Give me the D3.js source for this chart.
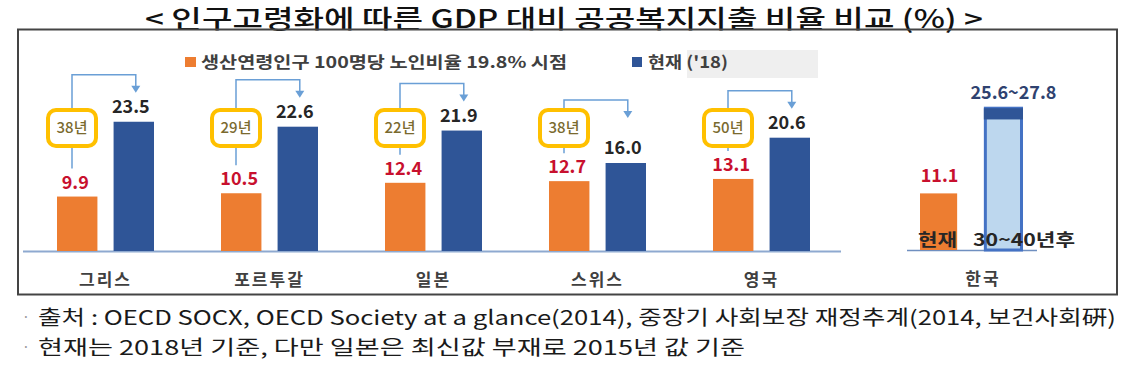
<!DOCTYPE html>
<html><head><meta charset="utf-8">
<script src="https://cdn.jsdelivr.net/npm/d3@7"></script>
<style>
html,body{margin:0;padding:0;background:#fff;}
svg{display:block;}
text{font-family:"Noto Sans CJK KR","Noto Sans",sans-serif;}
</style></head>
<body>
<svg id="chart" width="1133" height="375"></svg>
<script>
const title = "< 인구고령화에 따른 GDP 대비 공공복지지출 비율 비교 (%) >";
const categories = ["그리스", "포르투갈", "일본", "스위스", "영국"];
const seriesNames = ["생산연령인구 100명당 노인비율 19.8% 시점", "현재 ('18)"];
const oldValues = [9.9, 10.5, 12.4, 12.7, 13.1];
const nowValues = [23.5, 22.6, 21.9, 16.0, 20.6];
const yearsTaken = [38, 29, 22, 38, 50];
const koreaLabel = "한국";
const koreaCats = ["현재", "30~40년후"];
const koreaNow = 11.1;
const koreaFutureLow = 25.6;
const koreaFutureHigh = 27.8;
const footnotes = [
  "출처 : OECD SOCX, OECD Society at a glance(2014), 중장기 사회보장 재정추계(2014, 보건사회硏)",
  "현재는 2018년 기준, 다만 일본은 최신값 부재로 2015년 값 기준"
];

const ORANGE = "#ED7D31", BLUE = "#2F5597", RED = "#C8102E", LINE = "#6A9FD6", GOLD = "#FFC000";
const svg = d3.select("#chart");

// title
svg.append("text").attr("x", 145).attr("y", 28).attr("textLength", 838).attr("lengthAdjust", "spacingAndGlyphs")
  .attr("font-size", 25).attr("font-weight", 500).attr("fill", "#111").text(title);

// frame
svg.append("rect").attr("x", 18).attr("y", 29.5).attr("width", 1099).attr("height", 265)
  .attr("fill", "none").attr("stroke", "#444").attr("stroke-width", 2);

// scales
const x = d3.scaleBand().domain(categories).range([23.5, 843.5]).padding(0);
const xs = d3.scaleBand().domain(["old", "now"]).range([33.5, 130.5]).paddingInner(0.2857).paddingOuter(0);
const y = d3.scaleLinear().domain([0, 30]).range([251, 86]);

// legend
svg.append("rect").attr("x", 687).attr("y", 50).attr("width", 131).attr("height", 28).attr("fill", "#efefef");
svg.append("rect").attr("x", 185).attr("y", 57).attr("width", 11).attr("height", 10).attr("fill", ORANGE);
svg.append("text").attr("x", 201).attr("y", 68).attr("font-size", 16).attr("font-weight", 700)
  .attr("fill", "#404040").attr("textLength", 366).attr("lengthAdjust", "spacingAndGlyphs").text(seriesNames[0]);
svg.append("rect").attr("x", 632).attr("y", 57).attr("width", 10).attr("height", 10).attr("fill", BLUE);
svg.append("text").attr("x", 648).attr("y", 68).attr("font-size", 16).attr("font-weight", 700)
  .attr("fill", "#404040").attr("textLength", 80).attr("lengthAdjust", "spacingAndGlyphs").text(seriesNames[1]);

// baseline
svg.append("line").attr("x1", 23).attr("x2", 841).attr("y1", y(0) + 0.5).attr("y2", y(0) + 0.5)
  .attr("stroke", "#8EA9D0").attr("stroke-width", 2);

const g = svg.append("g");
categories.forEach((c, i) => {
  const xo = x(c) + xs("old"), xn = x(c) + xs("now"), bw = xs.bandwidth();
  const cxBox = xo + 15;
  const ax = xn + bw / 2 + 2;
  const hy = Math.min(y(nowValues[i]) - 47, 100);
  const tip = hy + 18;
  const lines = g.append("g").attr("fill", "none").attr("stroke", LINE).attr("stroke-width", 1.5);
  lines.append("path").attr("d", `M${cxBox},110 V${hy} H${ax} V${tip - 6}`);
  lines.append("path").attr("d", `M${cxBox},146 V${y(oldValues[i]) - 28}`);
  g.append("path").attr("d", `M${ax - 4.5},${tip - 7} L${ax + 4.5},${tip - 7} L${ax},${tip} Z`).attr("fill", LINE);
  g.append("rect").attr("x", xo).attr("y", y(oldValues[i])).attr("width", bw).attr("height", y(0) - y(oldValues[i])).attr("fill", ORANGE);
  g.append("rect").attr("x", xn).attr("y", y(nowValues[i])).attr("width", bw).attr("height", y(0) - y(nowValues[i])).attr("fill", BLUE);
  g.append("text").attr("x", xo + bw / 2 - 2).attr("y", y(oldValues[i]) - 8).attr("text-anchor", "middle")
    .attr("font-size", 18).attr("font-weight", 700).attr("fill", RED).text(oldValues[i].toFixed(1));
  g.append("text").attr("x", xn + bw / 2 - 3).attr("y", y(nowValues[i]) - 9).attr("text-anchor", "middle")
    .attr("font-size", 18).attr("font-weight", 700).attr("fill", "#262626").text(nowValues[i].toFixed(1));
  g.append("rect").attr("x", cxBox - 24).attr("y", 110).attr("width", 48).attr("height", 36).attr("rx", 8)
    .attr("fill", "#fff").attr("stroke", GOLD).attr("stroke-width", 4);
  g.append("text").attr("x", cxBox).attr("y", 133).attr("text-anchor", "middle").attr("font-size", 15)
    .attr("font-weight", 500).attr("fill", "#7A6A2E").text(yearsTaken[i] + "년");
  g.append("text").attr("x", x(c) + 82).attr("y", 286).attr("text-anchor", "middle").attr("font-size", 17)
    .attr("font-weight", 700).attr("letter-spacing", 2).attr("fill", "#404040").text(c);
});

// Korea panel
const xk = d3.scaleBand().domain(koreaCats).range([920, 1023]).paddingInner(0.387).paddingOuter(0);
const yk = d3.scaleLinear().domain([0, 30]).range([250, 97]);
const kb = xk.bandwidth();
svg.append("line").attr("x1", 907).attr("x2", 1037).attr("y1", 250.5).attr("y2", 250.5).attr("stroke", "#6F8FC0").attr("stroke-width", 1.5);
svg.append("rect").attr("x", xk(koreaCats[0])).attr("y", yk(koreaNow)).attr("width", kb - 2).attr("height", yk(0) - yk(koreaNow)).attr("fill", ORANGE);
svg.append("rect").attr("x", xk(koreaCats[1]) + 1.5).attr("y", yk(koreaFutureHigh)).attr("width", kb - 3).attr("height", yk(0) - yk(koreaFutureHigh))
  .attr("fill", "#BDD7EE").attr("stroke", "#4472C4").attr("stroke-width", 3);
svg.append("rect").attr("x", xk(koreaCats[1])).attr("y", yk(koreaFutureHigh)).attr("width", kb).attr("height", yk(koreaFutureLow) - yk(koreaFutureHigh))
  .attr("fill", BLUE);
svg.append("text").attr("x", xk(koreaCats[0]) + kb / 2).attr("y", yk(koreaNow) - 11).attr("text-anchor", "middle")
  .attr("font-size", 18).attr("font-weight", 700).attr("fill", RED).text(koreaNow.toFixed(1));
svg.append("text").attr("x", xk(koreaCats[1]) + kb / 2 + 10).attr("y", yk(koreaFutureHigh) - 9).attr("text-anchor", "middle")
  .attr("font-size", 18).attr("font-weight", 700).attr("fill", "#2F4270").text(koreaFutureLow.toFixed(1) + "~" + koreaFutureHigh.toFixed(1));
svg.append("text").attr("x", 918).attr("y", 246).attr("font-size", 17).attr("font-weight", 700).attr("fill", "#262626")
  .attr("textLength", 39).attr("lengthAdjust", "spacingAndGlyphs").text(koreaCats[0]);
svg.append("text").attr("x", 973).attr("y", 246).attr("font-size", 17).attr("font-weight", 700).attr("fill", "#262626")
  .attr("textLength", 102).attr("lengthAdjust", "spacingAndGlyphs").text(koreaCats[1]);
svg.append("text").attr("x", 983).attr("y", 285).attr("text-anchor", "middle").attr("font-size", 17)
  .attr("font-weight", 700).attr("letter-spacing", 2).attr("fill", "#404040").text(koreaLabel);

// footnotes
const fl = [1078, 707];
footnotes.forEach((t, i) => {
  const yy = 325 + i * 30;
  svg.append("text").attr("x", 22).attr("y", yy - 3).attr("font-size", 14).attr("fill", "#999").text("·");
  svg.append("text").attr("x", 38).attr("y", yy).attr("font-size", 20).attr("fill", "#1a1a1a")
    .attr("textLength", fl[i]).attr("lengthAdjust", "spacingAndGlyphs").text(t);
});
</script>
</body></html>
